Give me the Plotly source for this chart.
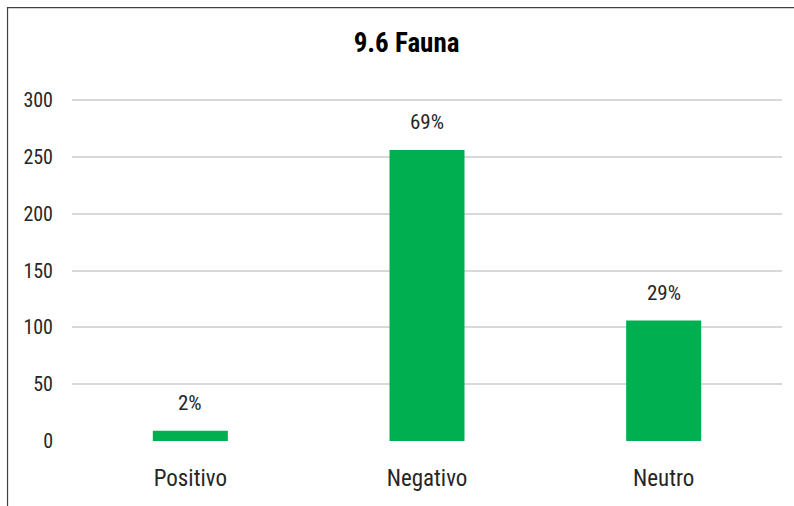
import plotly.graph_objects as go

categories = ["Positivo", "Negativo", "Neutro"]
values = [9, 256, 106]
labels = ["2%", "69%", "29%"]
y_ticks = [0, 50, 100, 150, 200, 250, 300]

FONT = "Roboto Condensed, Liberation Sans Narrow, Arial Narrow, sans-serif"
GREEN = "#00B050"
TXT = "#262626"

fig = go.Figure()
fig.add_trace(go.Bar(
    x=categories, y=values, marker=dict(color=GREEN, line=dict(width=0)),
    width=0.317, hoverinfo="skip",
))

for c, v, t in zip(categories, values, labels):
    fig.add_annotation(x=c, y=v, text=t, showarrow=False, yanchor="middle",
                       yshift=28, font=dict(family=FONT, size=21, color=TXT))

fig.add_shape(type="rect", xref="paper", yref="paper",
              x0=-0.0908, x1=1.03, y0=-0.25, y1=1.249,
              line=dict(color="#404040", width=1.2), fillcolor="rgba(0,0,0,0)")

fig.update_layout(
    width=794, height=506,
    margin=dict(l=72, r=12, t=94, b=65),
    paper_bgcolor="white", plot_bgcolor="white",
    showlegend=False,
    title=dict(text="<b>9.6 Fauna</b>", x=0.512, xanchor="center", y=0.915, yanchor="middle",
               font=dict(family=FONT, size=27, color="#000000")),
    font=dict(family=FONT, size=21, color=TXT),
)
fig.update_xaxes(showgrid=False, showline=False, ticks="", ticklabelstandoff=21,
                 tickfont=dict(family=FONT, size=23, color=TXT))
fig.update_yaxes(range=[0, 305.3], tickvals=y_ticks, showgrid=True, gridcolor="#D9D9D9",
                 gridwidth=2, zeroline=False, showline=False, ticks="",
                 ticklabelstandoff=18, tickfont=dict(family=FONT, size=20, color=TXT))

fig.write_html("out.html", config={"displayModeBar": False},
               post_script="document.body.style.margin='0';")
